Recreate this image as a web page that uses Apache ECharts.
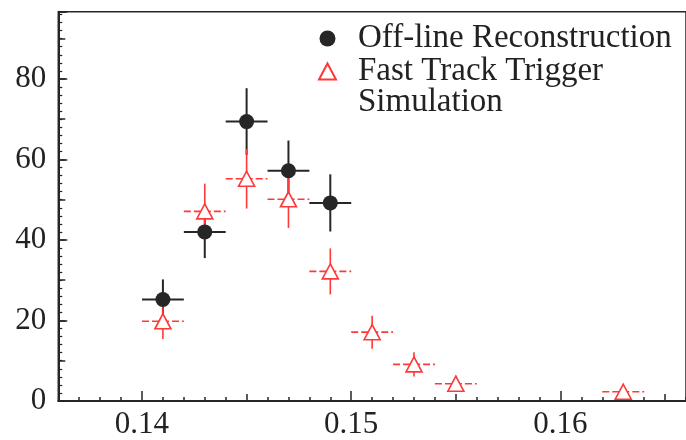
<!DOCTYPE html>
<html>
<head>
<meta charset="utf-8">
<script src="https://cdn.jsdelivr.net/npm/echarts@6/dist/echarts.min.js"></script>
<style>html,body{margin:0;padding:0;background:#fff;}#c{width:686px;height:440px;}</style>
</head>
<body>
<div id="c"></div>
<script>
// ---- data ----
const offlineBins = [0.141, 0.143, 0.145, 0.147, 0.149];
const offlineValues = [25.2, 42.0, 69.4, 57.2, 49.2];
const offlineErrors = [5.0, 6.5, 8.3, 7.5, 7.1];

const simBins = [0.141, 0.143, 0.145, 0.147, 0.149, 0.151, 0.153, 0.155, 0.163];
const simValues = [19.8, 47.1, 55.2, 50.1, 32.2, 17.1, 9.1, 4.3, 2.3];
const simErrors = [4.4, 6.9, 7.4, 7.1, 5.7, 4.1, 3.0, 2.0, 1.5];

const binHalfWidth = 0.001;

const xMajorTicks = [0.14, 0.15, 0.16];
const xMidTicks = [0.145, 0.155, 0.165];
const yMajorTicks = [0, 20, 40, 60, 80];

const offlineName = 'Off-line Reconstruction';
const simName = 'Fast Track Trigger Simulation';

// ---- chart ----
const FONT = '"Liberation Serif", "DejaVu Serif", serif';
const BLACK = '#262626';
const RED = '#ff3838';
const X_MIN = 0.136, X_MAX = 0.166, Y_MAX = 96.7;

const xMinorTicks = [];
for (let i = 137; i <= 166; i++) xMinorTicks.push(i / 1000);

const offlineData = offlineBins.map((x, i) => [x, offlineValues[i], offlineErrors[i], binHalfWidth]);
const simData = simBins.map((x, i) => [x, simValues[i], simErrors[i], binHalfWidth]);

function errRender(color, width, dash) {
  return function (params, api) {
    const x = api.value(0), y = api.value(1), e = api.value(2), h = api.value(3);
    const t = api.coord([x, y + e]), b = api.coord([x, y - e]);
    const l = api.coord([x - h, y]), r = api.coord([x + h, y]);
    return {
      type: 'group',
      children: [
        { type: 'line', shape: { x1: t[0], y1: t[1], x2: b[0], y2: b[1] }, style: { stroke: color, lineWidth: width } },
        { type: 'line', shape: { x1: l[0], y1: l[1], x2: r[0], y2: r[1] }, style: { stroke: color, lineWidth: width, lineDash: dash } }
      ]
    };
  };
}

function xAxisLayer(values, len, showLabel) {
  return {
    type: 'value', min: X_MIN, max: X_MAX, position: 'bottom', gridIndex: 0,
    axisLine: { show: showLabel, onZero: false, lineStyle: { color: BLACK, width: 2 } },
    splitLine: { show: false },
    axisTick: { show: true, inside: true, length: len, customValues: values, lineStyle: { color: BLACK, width: 1.5 } },
    axisLabel: showLabel ? {
      show: true, customValues: xMajorTicks, formatter: v => v.toFixed(2),
      fontFamily: FONT, fontSize: 31, color: '#222', margin: 8
    } : { show: false }
  };
}

const chart = echarts.init(document.getElementById('c'), null, { renderer: 'canvas' });
chart.setOption({
  backgroundColor: '#ffffff',
  animation: false,
  grid: { left: 58.3, top: 11.7, bottom: 33.3, right: -6.8, show: true, borderColor: BLACK, borderWidth: 1.5, containLabel: false },
  xAxis: [
    xAxisLayer(xMajorTicks, 10, true),
    xAxisLayer(xMidTicks, 7, false),
    xAxisLayer(xMinorTicks, 4, false)
  ],
  yAxis: [
    {
      type: 'value', min: 0, max: Y_MAX, interval: 20, position: 'left',
      axisLine: { show: true, lineStyle: { color: BLACK, width: 2 } },
      splitLine: { show: false },
      axisTick: { show: true, inside: true, length: 9, lineStyle: { color: BLACK, width: 1.5 } },
      minorTick: { show: true, splitNumber: 10, length: 4, lineStyle: { color: BLACK, width: 1.2 } },
      axisLabel: { show: true, customValues: yMajorTicks, fontFamily: FONT, fontSize: 31, color: '#222', margin: 12 }
    },
    {
      type: 'value', min: 0, max: Y_MAX, interval: 10, position: 'left',
      axisLine: { show: false }, splitLine: { show: false },
      axisTick: { show: true, inside: true, length: 7, lineStyle: { color: BLACK, width: 1.5 } },
      axisLabel: { show: false }
    }
  ],
  legend: {
    data: [offlineName, simName],
    orient: 'vertical', left: 318, top: 22, padding: 0,
    itemWidth: 17, itemHeight: 16, itemGap: 0,
    formatter: name => name === simName ? 'Fast Track Trigger' : name,
    textStyle: { fontFamily: FONT, fontSize: 33, color: '#222', lineHeight: 32, padding: [0, 0, 0, 17] }
  },
  graphic: [
    { type: 'text', left: 358, top: 86, style: { text: 'Simulation', font: '33px ' + FONT, fill: '#222' } }
  ],
  series: [
    { type: 'custom', name: 'offline-err', data: offlineData, encode: { x: 0, y: 1 }, renderItem: errRender(BLACK, 2, null), z: 2, silent: true },
    { type: 'custom', name: 'sim-err', data: simData, encode: { x: 0, y: 1 }, renderItem: errRender(RED, 1.6, [7, 3]), z: 3, silent: true },
    { type: 'scatter', name: offlineName, data: offlineData, encode: { x: 0, y: 1 }, symbol: 'circle', symbolSize: 15,
      itemStyle: { color: BLACK, opacity: 1 }, z: 4 },
    { type: 'scatter', name: simName, data: simData, encode: { x: 0, y: 1 }, symbol: 'triangle', symbolSize: [16, 15],
      itemStyle: { color: '#ffffff', borderColor: RED, borderWidth: 1.6, opacity: 1 }, z: 5 }
  ]
});
</script>
</body>
</html>
